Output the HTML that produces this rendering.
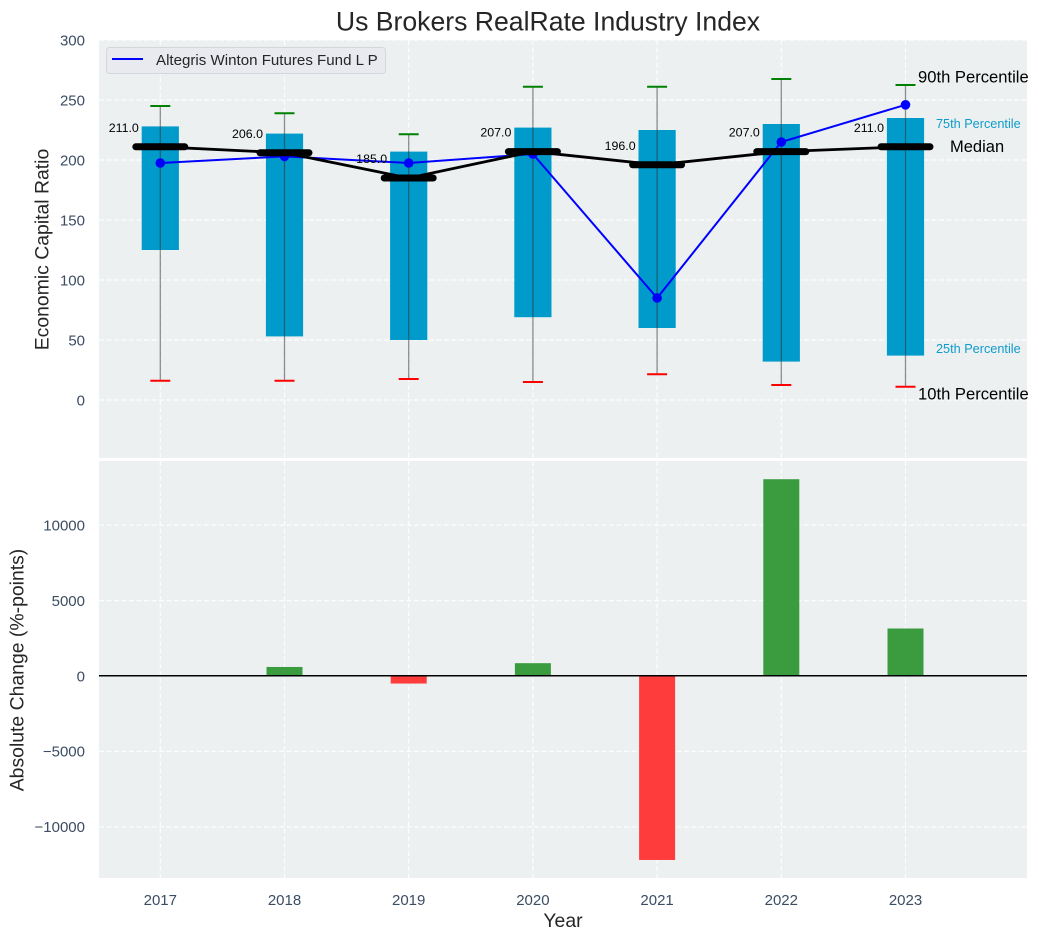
<!DOCTYPE html>
<html>
<head>
<meta charset="utf-8">
<title>Us Brokers RealRate Industry Index</title>
<style>
html,body{margin:0;padding:0;background:#fff;width:1038px;height:940px;overflow:hidden}
svg{display:block}
text{font-family:"Liberation Sans",sans-serif}
</style>
</head>
<body>
<svg id="chart" xmlns="http://www.w3.org/2000/svg" width="1038" height="940" viewBox="0 0 1038 940">
  <rect width="1038" height="940" fill="#ffffff"/>
  <rect x="99" y="40" width="928" height="418" fill="#ecf0f1"/>
  <rect x="99" y="461" width="928" height="417" fill="#ecf0f1"/>
  <g id="top-grid"></g>
  <g id="bottom-grid"></g>
  <g id="boxes"></g>
  <g id="whiskers"></g>
  <g id="fund"></g>
  <g id="medians"></g>
  <g id="change-bars"></g>
  <line x1="99" x2="1027" y1="675.7" y2="675.7" stroke="#000" stroke-width="1.5"/>
  <g id="ticks" fill="#3b4d63" font-size="15"></g>
  <g id="notes"></g>
  <text x="548" y="30.5" text-anchor="middle" font-size="26.6" fill="#262626">Us Brokers RealRate Industry Index</text>
  <text transform="translate(48.5,249.5) rotate(-90)" text-anchor="middle" font-size="19.4" fill="#262626">Economic Capital Ratio</text>
  <text transform="translate(23.5,670) rotate(-90)" text-anchor="middle" font-size="19.4" fill="#262626">Absolute Change (%-points)</text>
  <text x="563" y="927" text-anchor="middle" font-size="19.4" fill="#262626">Year</text>
  <g>
    <rect x="106.5" y="47.5" width="279" height="26" rx="3" fill="#e8eaf0" stroke="#d4d6db"/>
    <line x1="112" x2="143" y1="59" y2="59" stroke="#0000ff" stroke-width="2"/>
    <text x="156" y="65" font-size="15.1" fill="#262626">Altegris Winton Futures Fund L P</text>
  </g>
</svg>
<script>
const years = [2017, 2018, 2019, 2020, 2021, 2022, 2023];
const p10 = [16, 16, 17.5, 15, 21.5, 12.5, 11];
const p25 = [125, 53, 50, 69, 60, 32, 37];
const medianValues = [211, 206, 185, 207, 196, 207, 211];
const p75 = [228, 222, 207, 227, 225, 230, 235];
const p90 = [245, 239, 221.5, 261, 261, 267.5, 262.5];
const fundValues = [197.5, 203, 197.5, 205, 85, 215, 246];
const changeValues = [0, 600, -500, 850, -12200, 13050, 3150];
const topTicks = [0, 50, 100, 150, 200, 250, 300];
const bottomTicks = [-10000, -5000, 0, 5000, 10000];

const NS = 'http://www.w3.org/2000/svg';
const xScale = v => 160.3 + (v - 2017) * 124.2;
const yTop = v => 400 - v * 1.2;
const yBottom = v => 676 - v * 0.01508;

function make(tag, parentId, attrs, content) {
  const node = document.createElementNS(NS, tag);
  for (const k in attrs) node.setAttribute(k, attrs[k]);
  if (content !== undefined) node.textContent = content;
  document.getElementById(parentId).appendChild(node);
  return node;
}

// Grid lines
topTicks.forEach(t => {
  const el = make('line', 'top-grid', {x1: 99, x2: 1027, y1: yTop(t), y2: yTop(t), stroke: '#fff', 'stroke-width': 1.2, 'stroke-dasharray': '5 2.5', opacity: 0.9});
  
  
});
bottomTicks.forEach(t => {
  const el = make('line', 'bottom-grid', {x1: 99, x2: 1027, y1: yBottom(t), y2: yBottom(t), stroke: '#fff', 'stroke-width': 1.2, 'stroke-dasharray': '5 2.5', opacity: 0.9});
  
  
});
years.forEach(yr => {
  const a = make('line', 'top-grid', {x1: xScale(yr), x2: xScale(yr), y1: 40, y2: 458, stroke: '#fff', 'stroke-width': 1.2, 'stroke-dasharray': '5 2.5', opacity: 0.9});
  
  
  const b = make('line', 'bottom-grid', {x1: xScale(yr), x2: xScale(yr), y1: 461, y2: 878, stroke: '#fff', 'stroke-width': 1.2, 'stroke-dasharray': '5 2.5', opacity: 0.9});
  
  
});

// Boxes, whiskers and caps
years.forEach((yr, i) => {
  const x = xScale(yr);
  const box = make('rect', 'boxes', {x: x - 18.6, y: yTop(p75[i]), width: 37.2, height: yTop(p25[i]) - yTop(p75[i]), fill: '#009bcb'});
  
  
  const whisker = make('line', 'whiskers', {x1: x, x2: x, y1: yTop(p90[i]), y2: yTop(p10[i]), stroke: '#333', 'stroke-opacity': 0.55, 'stroke-width': 1.3});
  
  
  const capHigh = make('line', 'whiskers', {x1: x - 10, x2: x + 10, y1: yTop(p90[i]), y2: yTop(p90[i]), stroke: '#008000', 'stroke-width': 2});
  
  
  const capLow = make('line', 'whiskers', {x1: x - 10, x2: x + 10, y1: yTop(p10[i]), y2: yTop(p10[i]), stroke: '#ff0000', 'stroke-width': 2});
  
  
});

// Fund line and points
const fundLine = make('polyline', 'fund', {points: years.map((yr, i) => xScale(yr) + ',' + yTop(fundValues[i])).join(' '), fill: 'none', stroke: '#0000ff', 'stroke-width': 2});


years.forEach((yr, i) => {
  const pt = make('circle', 'fund', {cx: xScale(yr), cy: yTop(fundValues[i]), r: 4.8, fill: '#0000ff'});
  
  
});

// Median line, thick segments and value labels
const medLine = make('polyline', 'medians', {points: years.map((yr, i) => xScale(yr) + ',' + yTop(medianValues[i])).join(' '), fill: 'none', stroke: '#000', 'stroke-width': 2.8});


years.forEach((yr, i) => {
  const x = xScale(yr), y = yTop(medianValues[i]);
  const seg = make('line', 'medians', {x1: x - 24.5, x2: x + 24.5, y1: y, y2: y, stroke: '#000', 'stroke-width': 7, 'stroke-linecap': 'round'});
  
  
  const label = make('text', 'medians', {x: x - 21.5, y: y - 15, 'text-anchor': 'end', 'font-size': 12.4, fill: '#000'}, medianValues[i].toFixed(1));
  
  
});

// Change bars
years.forEach((yr, i) => {
  const v = changeValues[i];
  if (v === 0) return;
  const top = Math.min(yBottom(v), yBottom(0));
  const bar = make('rect', 'change-bars', {x: xScale(yr) - 18, y: top, width: 36, height: Math.abs(yBottom(v) - yBottom(0)), fill: v > 0 ? '#3a9c3e' : '#ff3c3c'});
  
  
});

// Tick labels
topTicks.forEach(t => {
  const el = make('text', 'ticks', {x: 85, y: yTop(t) + 5.3, 'text-anchor': 'end'}, String(t));
  
  
});
bottomTicks.forEach(t => {
  const el = make('text', 'ticks', {x: 85, y: yBottom(t) + 5.3, 'text-anchor': 'end'}, String(t).replace('-', '\u2212'));
  
  
});
years.forEach(yr => {
  const el = make('text', 'ticks', {x: xScale(yr), y: 905, 'text-anchor': 'middle'}, String(yr));
  
  
});

// Percentile annotations anchored on the last year
const last = years.length - 1;
const n90 = make('text', 'notes', {x: 918, y: yTop(p90[last]) - 2.5, 'font-size': 16.6, fill: '#000'}, '90th Percentile');


const n75 = make('text', 'notes', {x: 936, y: yTop(p75[last]) + 10, 'font-size': 12.7, fill: '#0f9bcb'}, '75th Percentile');


const nMed = make('text', 'notes', {x: 950, y: yTop(medianValues[last]) + 5, 'font-size': 16.5, fill: '#000'}, 'Median');


const n25 = make('text', 'notes', {x: 936, y: yTop(p25[last]) - 2.5, 'font-size': 12.7, fill: '#0f9bcb'}, '25th Percentile');


const n10 = make('text', 'notes', {x: 918, y: yTop(p10[last]) + 12.5, 'font-size': 16.6, fill: '#000'}, '10th Percentile');


</script>
</body>
</html>
